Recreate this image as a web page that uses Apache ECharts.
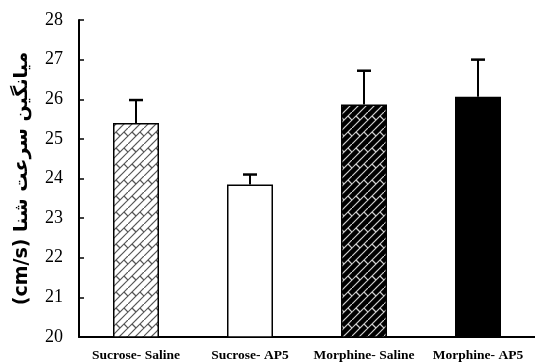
<!DOCTYPE html>
<html><head><meta charset="utf-8">
<script src="https://cdn.jsdelivr.net/npm/echarts@6/dist/echarts.min.js"></script>
<style>html,body{margin:0;padding:0;background:#fff}#c{width:535px;height:363px}</style>
</head><body><div id="c"></div>
<script>
const categories = ['Sucrose- Saline', 'Sucrose- AP5', 'Morphine- Saline', 'Morphine- AP5'];
const means = [25.4, 23.85, 25.87, 26.06];
const errors = [0.58, 0.25, 0.85, 0.94];
const yTicks = { min: 20, max: 28, interval: 1 };
const yTitle = '(cm/s) میانگین سرعت شنا';

function makePattern(bg, fg) {
  const s = 16, h = s / 2, q = s / 4;
  const c = document.createElement('canvas');
  c.width = s; c.height = s;
  const g = c.getContext('2d');
  g.fillStyle = bg; g.fillRect(0, 0, s, s);
  g.strokeStyle = fg; g.lineWidth = 1.2;
  const seg = (a, b, cc, d) => { g.beginPath(); g.moveTo(a, b); g.lineTo(cc, d); g.stroke(); };
  // "/" lines
  seg(-1, s + 1, s + 1, -1); seg(-1, h + 1, h + 1, -1); seg(h - 1, s + 1, s + 1, h - 1);
  // "\" joints (staggered)
  const joints = [[q, q], [3 * q, q]];
  for (const [x, y] of joints) {
    for (let dx = -s; dx <= s; dx += s) for (let dy = -s; dy <= s; dy += s) {
      seg(x + dx, y + dy, x + dx + q, y + dy + q);
    }
  }
  return c;
}
const fills = [
  { image: makePattern('#ffffff', '#555555'), repeat: 'repeat' },
  '#ffffff',
  { image: makePattern('#000000', '#d0d0d0'), repeat: 'repeat' },
  '#000000'
];

const chart = echarts.init(document.getElementById('c'), null, { renderer: 'canvas' });
chart.setOption({
  animation: false,
  grid: { left: 79, top: 20, bottom: 25, width: 464 },
  xAxis: {
    type: 'category', data: categories,
    axisLine: { lineStyle: { color: '#000', width: 2 } },
    axisTick: { show: false },
    axisLabel: { color: '#000', fontFamily: 'Liberation Serif', fontWeight: 'bold', fontSize: 13.5, margin: 12, interval: 0 }
  },
  yAxis: {
    type: 'value', min: yTicks.min, max: yTicks.max, interval: yTicks.interval,
    name: yTitle, nameLocation: 'middle', nameGap: 47, nameRotate: 90,
    nameTextStyle: { color: '#000', fontFamily: 'DejaVu Sans', fontWeight: 'bold', fontSize: 19 },
    splitLine: { show: false },
    axisLine: { show: true, lineStyle: { color: '#000', width: 2 } },
    axisTick: { show: true, inside: true, length: 5, lineStyle: { color: '#000', width: 1.5 } },
    axisLabel: { color: '#000', fontFamily: 'Liberation Serif', fontSize: 18, margin: 16 }
  },
  series: [
    {
      type: 'bar', barWidth: 46, z: 3,
      data: means.map((v, i) => ({ value: v, itemStyle: { color: fills[i] } })),
      itemStyle: { borderColor: '#000', borderWidth: 1.5 }
    },
    {
      type: 'custom', z: 1,
      data: means.map((v, i) => [i, v, v + errors[i]]),
      renderItem: function (params, api) {
        const base = api.coord([api.value(0), api.value(1)]);
        const top = api.coord([api.value(0), api.value(2)]);
        const hw = 7;
        return {
          type: 'group', children: [
            { type: 'line', shape: { x1: base[0], y1: base[1], x2: top[0], y2: top[1] }, style: { stroke: '#000', lineWidth: 2 } },
            { type: 'line', shape: { x1: top[0] - hw, y1: top[1], x2: top[0] + hw, y2: top[1] }, style: { stroke: '#000', lineWidth: 2.5 } }
          ]
        };
      }
    }
  ]
});
</script></body></html>
